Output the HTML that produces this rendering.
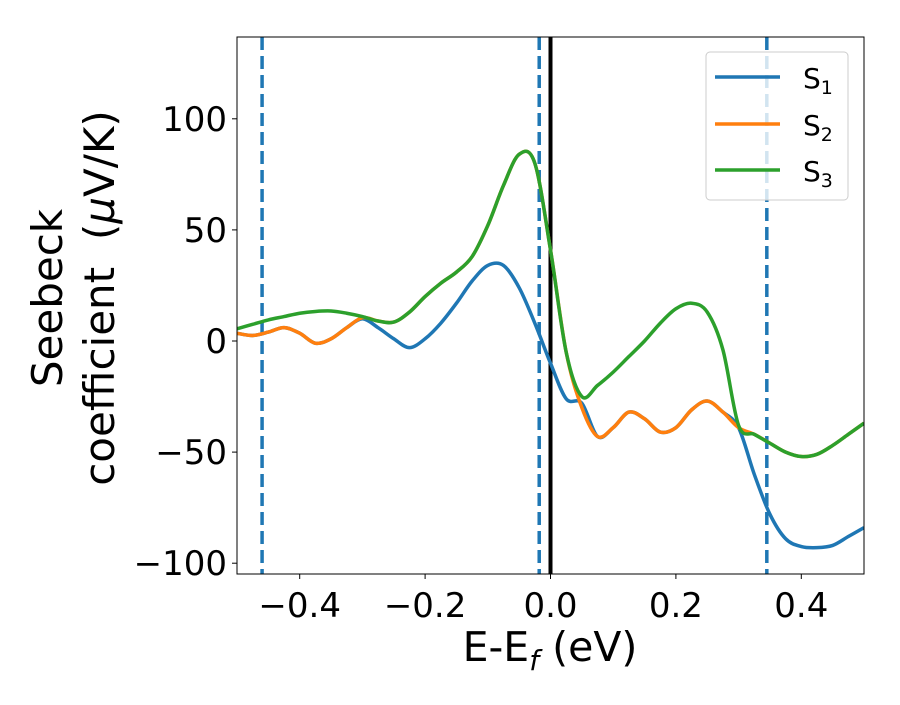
<!DOCTYPE html>
<html><head><meta charset="utf-8"><style>
body{margin:0;background:#fff}
svg text{font-family:"DejaVu Sans","Liberation Sans",sans-serif;fill:#000}
</style></head><body>
<svg id="chart" width="900" height="700" viewBox="0 0 900 700">
<g id="plot"></g>
</svg>
<script>
const xs=[-0.5,-0.475,-0.45,-0.425,-0.4,-0.375,-0.35,-0.325,-0.3,-0.275,-0.25,-0.225,-0.2,-0.175,-0.15,-0.125,-0.1,-0.075,-0.05,-0.025,0,0.025,0.05,0.075,0.1,0.125,0.15,0.175,0.2,0.225,0.25,0.275,0.3,0.325,0.35,0.375,0.4,0.425,0.45,0.475,0.5];
const s3=[5.5,7.5,9.5,11,12.5,13.3,13.5,12.5,11,9,8.5,13,20,26,31,38,52,70,84,80,41,-5,-25,-20,-14,-7,0,8,14.5,17,13,-4,-38,-42,-46,-50,-52,-51,-47,-42,-37];
const s2=[3.5,2.5,4,6,3.5,-1,1,6,10.5,9,8.5,13,20,26,31,38,52,70,84,80,41,-5,-30,-43,-39,-32,-35,-41,-39,-31,-27,-32,-39,-42,-46,-50,-52,-51,-47,-42,-37];
const s1=[3.5,2.5,4,6,3.5,-1,1,6,10,6,1,-3,1,8,17,27,34,34,24,8,-10,-26,-28,-43,-39,-32,-35,-41,-39,-31,-27,-32,-39,-60,-78,-89,-92.5,-93,-92,-88,-84];
const xTicks=[-0.4,-0.2,0.0,0.2,0.4];
const xTickLabels=["\u22120.4","\u22120.2","0.0","0.2","0.4"];
const yTicks=[100,50,0,-50,-100];
const yTickLabels=["100","50","0","\u221250","\u2212100"];
const vlines=[-0.46,-0.018,0.345];
const L=237,R=864,T=37,B=574;
const X=v=>L+(v+0.5)/1.0*(R-L);
const Y=v=>341-v*2.222;
const NS="http://www.w3.org/2000/svg";
const svg=document.getElementById('chart'),plot=document.getElementById('plot');
function mk(tag,attrs,parent){const e=document.createElementNS(NS,tag);for(const k in attrs)e.setAttribute(k,attrs[k]);(parent||svg).appendChild(e);return e;}
const cp=mk('clipPath',{id:'clip'});mk('rect',{x:L,y:T,width:R-L,height:B-T},cp);
function path(ys){const p=xs.map((x,i)=>[X(x),Y(ys[i])]);let d=`M${p[0][0]},${p[0][1]}`;
for(let i=0;i<p.length-1;i++){const p0=p[Math.max(0,i-1)],p1=p[i],p2=p[i+1],p3=p[Math.min(p.length-1,i+2)];
d+=` C${p1[0]+(p2[0]-p0[0])/6},${p1[1]+(p2[1]-p0[1])/6} ${p2[0]-(p3[0]-p1[0])/6},${p2[1]-(p3[1]-p1[1])/6} ${p2[0]},${p2[1]}`;}return d;}
const g=mk('g',{'clip-path':'url(#clip)'},plot);
vlines.forEach((v,i)=>{const l=mk('line',{x1:X(v),x2:X(v),y1:T,y2:B,stroke:'#1f77b4','stroke-width':3.5,'stroke-dasharray':'13,6'},g);

});
const z=mk('line',{x1:X(0),x2:X(0),y1:T,y2:B,stroke:'#000','stroke-width':4},g);


[[s1,'#1f77b4','s1'],[s2,'#ff7f0e','s2'],[s3,'#2ca02c','s3']].forEach(([d,c,n])=>{const e=mk('path',{d:path(d),fill:'none',stroke:c,'stroke-width':3.5,'stroke-linejoin':'round'},g);

});
mk('rect',{x:L,y:T,width:R-L,height:B-T,fill:'none',stroke:'#000','stroke-width':1},plot);
xTicks.forEach((v,i)=>{mk('line',{x1:X(v),x2:X(v),y1:B,y2:B+5,stroke:'#000'},plot);
const t=mk('text',{x:X(v),y:B+43,'text-anchor':'middle','font-size':34},plot);t.textContent=xTickLabels[i];

});
yTicks.forEach((v,i)=>{mk('line',{x1:L-5,x2:L,y1:Y(v),y2:Y(v),stroke:'#000'},plot);
const t=mk('text',{x:L-10,y:Y(v)+12,'text-anchor':'end','font-size':34},plot);t.textContent=yTickLabels[i];

});
</script>
<svg style="position:absolute;left:0;top:0" width="900" height="700">
<text x="550" y="661" text-anchor="middle" font-size="41">E-E<tspan font-style="italic" font-size="28" dy="9">f</tspan><tspan dy="-9"> (eV)</tspan></text>
<g transform="translate(62,298) rotate(-90)">
<text x="0" y="0" text-anchor="middle" font-size="42">Seebeck</text>
<text x="0" y="52" text-anchor="middle" font-size="42">coefficient&#160; (<tspan font-style="italic">μ</tspan>V/K)</text>
</g>
<g>
<rect x="706" y="52" width="142" height="148" rx="4" fill="rgba(255,255,255,0.8)" stroke="#ccc"/>
<line x1="715" x2="780" y1="77" y2="77" stroke="#1f77b4" stroke-width="3.5"/>
<text x="803" y="88" font-size="28">S<tspan font-size="19" dy="6">1</tspan></text>
<line x1="715" x2="780" y1="124" y2="124" stroke="#ff7f0e" stroke-width="3.5"/>
<text x="803" y="135" font-size="28">S<tspan font-size="19" dy="6">2</tspan></text>
<line x1="715" x2="780" y1="170" y2="170" stroke="#2ca02c" stroke-width="3.5"/>
<text x="803" y="181" font-size="28">S<tspan font-size="19" dy="6">3</tspan></text>
</g>
</svg>
</body></html>
